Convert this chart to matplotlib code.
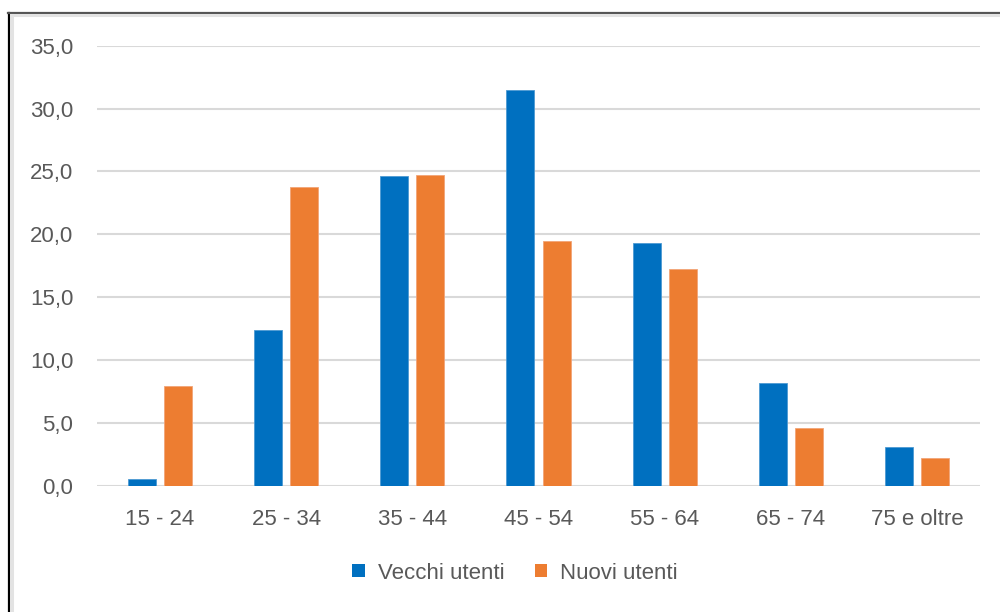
import matplotlib
matplotlib.use("Agg")
import matplotlib.pyplot as plt
from matplotlib.lines import Line2D
from matplotlib.patches import Patch
import numpy as np

categories = ["15 - 24", "25 - 34", "35 - 44", "45 - 54", "55 - 64", "65 - 74", "75 e oltre"]
vecchi = [0.5, 12.4, 24.6, 31.5, 19.3, 8.2, 3.1]
nuovi = [7.9, 23.8, 24.7, 19.5, 17.2, 4.6, 2.2]
yticks = [0, 5, 10, 15, 20, 25, 30, 35]
ytick_labels = ["0,0", "5,0", "10,0", "15,0", "20,0", "25,0", "30,0", "35,0"]
series_names = ["Vecchi utenti", "Nuovi utenti"]

BLUE = "#0070C0"
ORANGE = "#ED7D31"
TXT = "#595959"
GRID = "#D9D9D9"

plt.rcParams['font.family'] = ['Liberation Sans', 'DejaVu Sans']

fig = plt.figure(figsize=(10, 6.12), dpi=100)
ax = fig.add_axes([0.097, 0.2064, 0.883, 0.7189])

x = np.arange(len(categories))
w = 0.222
off = 0.143
ax.bar(x - off, vecchi, w, color=BLUE, edgecolor="#4D9AD3", linewidth=0.6, zorder=3)
ax.bar(x + off, nuovi, w, color=ORANGE, edgecolor="#F2A477", linewidth=0.6, zorder=3)

ax.set_xlim(-0.5, len(categories) - 0.5)
ax.set_ylim(0, 35)
ax.set_yticks(yticks)
ax.set_yticklabels(ytick_labels)
ax.set_xticks(x)
ax.set_xticklabels(categories)
ax.tick_params(axis='both', length=0, labelsize=16, colors=TXT)
ax.tick_params(axis='y', pad=17)
ax.tick_params(axis='x', pad=17)
ax.grid(axis='y', color=GRID, linewidth=1.5, zorder=0)
for s in ax.spines.values():
    s.set_visible(False)

handles = [Patch(facecolor=BLUE), Patch(facecolor=ORANGE)]
fig.legend(handles, series_names, loc='center', bbox_to_anchor=(0.515, 0.0637),
           ncol=2, frameon=False, fontsize=16, labelcolor=TXT,
           handlelength=0.55, handleheight=0.55, handletextpad=0.6, columnspacing=1.35)

# chart frame (screenshot border)
fig.add_artist(Line2D([8.5/1000, 8.5/1000], [0, 1 - 12.5/612], color="#000000", lw=1.6, transform=fig.transFigure))
fig.add_artist(Line2D([8/1000, 1], [1 - 12.5/612, 1 - 12.5/612], color="#555555", lw=1.6, transform=fig.transFigure))
fig.add_artist(Line2D([11.5/1000, 11.5/1000], [0, 1 - 15/612], color="#E3E3E3", lw=2.2, transform=fig.transFigure))
fig.add_artist(Line2D([11/1000, 1], [1 - 15/612, 1 - 15/612], color="#E3E3E3", lw=2.2, transform=fig.transFigure))

fig.savefig("out.png", dpi=100, facecolor="white")
